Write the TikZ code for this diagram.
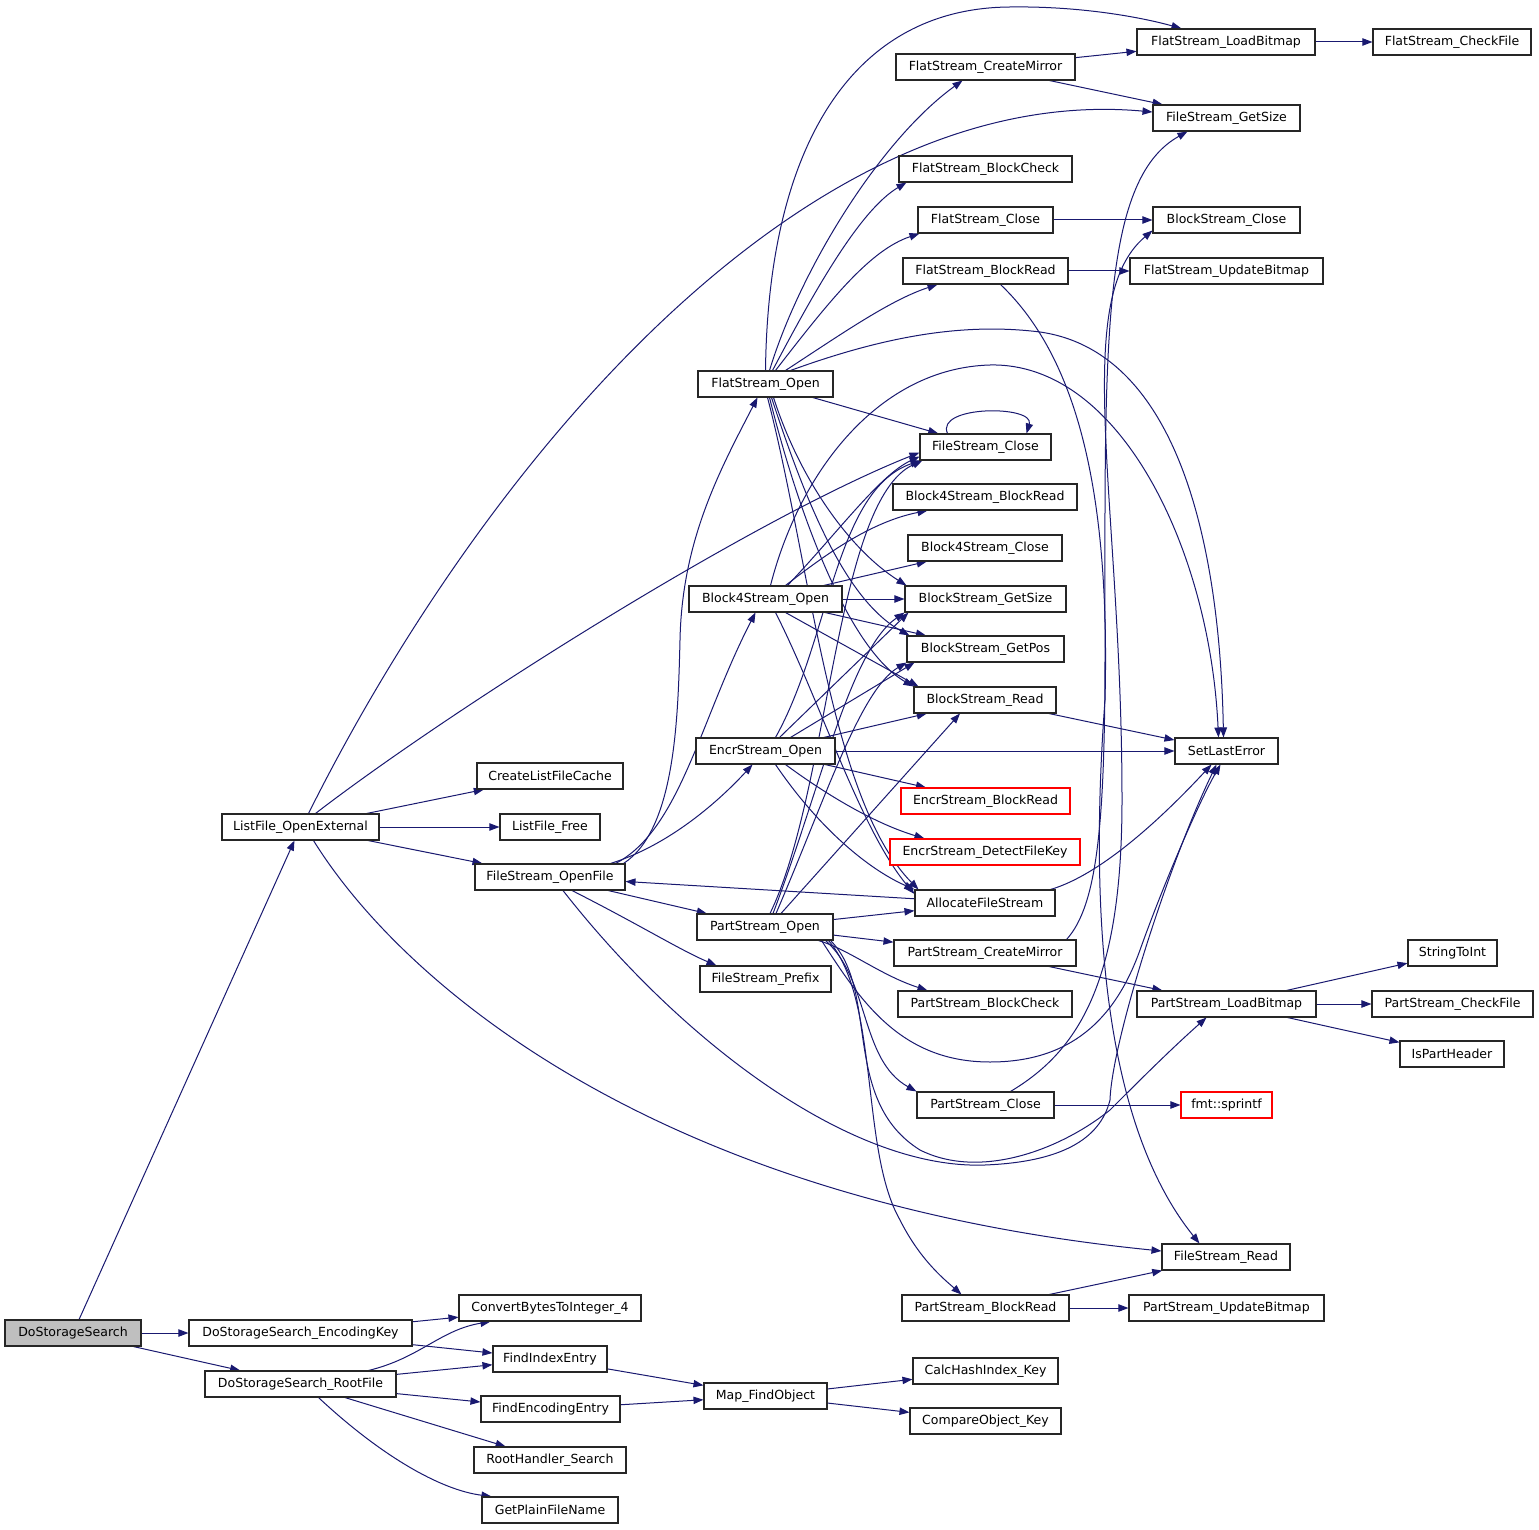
\documentclass[tikz,border=0pt]{standalone}
\usepackage{fontspec}
\setmainfont{DejaVu Sans}
\usetikzlibrary{arrows.meta,calc}
\definecolor{edgec}{HTML}{191970}
\definecolor{rootfill}{HTML}{BFBFBF}
\pgfdeclarelayer{bg}
\pgfsetlayers{bg,main}
\begin{document}
\begin{tikzpicture}[x=0.75pt,y=-0.75pt,
  fn/.style={draw=black!85, line width=0.8pt, fill=white, inner xsep=1pt, inner ysep=1pt,
    minimum height=19.5pt, font=\fontsize{9.4}{11}\selectfont, minimum width=#1*0.75pt},
  rn/.style={fn=#1, draw=red},
  e/.style={draw=edgec, line width=0.75pt, -{Triangle[length=7.5pt,width=5.5pt]}}]
\useasboundingbox (0,0) rectangle (1539,1530);
% nodes
\node[fn=136, fill=rootfill] (dss) at (73,1333) {DoStorageSearch};
\node[fn=223] (dsek) at (300.5,1333) {DoStorageSearch\_EncodingKey};
\node[fn=191] (dsrf) at (300.5,1384) {DoStorageSearch\_RootFile};
\node[fn=157] (lfoe) at (300.5,827) {ListFile\_OpenExternal};
\node[fn=146] (clfc) at (550,776) {CreateListFileCache};
\node[fn=100] (lff) at (550,827) {ListFile\_Free};
\node[fn=150] (fsof) at (550,877) {FileStream\_OpenFile};
\node[fn=182] (cbti) at (550,1308) {ConvertBytesToInteger\_4};
\node[fn=114] (fie) at (550,1359) {FindIndexEntry};
\node[fn=139] (fee) at (550.5,1409) {FindEncodingEntry};
\node[fn=152] (rhs) at (550,1460) {RootHandler\_Search};
\node[fn=136] (gpfn) at (550,1510) {GetPlainFileName};
\node[fn=135] (fso) at (765.5,384) {FlatStream\_Open};
\node[fn=153] (b4o) at (765.5,599) {Block4Stream\_Open};
\node[fn=139] (eso) at (765.5,751) {EncrStream\_Open};
\node[fn=136] (pso) at (765,927) {PartStream\_Open};
\node[fn=131] (fsp) at (765.5,979) {FileStream\_Prefix};
\node[fn=123] (mfo) at (765.5,1396) {Map\_FindObject};
\node[fn=179] (fcm) at (985.5,67) {FlatStream\_CreateMirror};
\node[fn=173] (fbc) at (985.5,169) {FlatStream\_BlockCheck};
\node[fn=135] (fcl) at (985.5,220) {FlatStream\_Close};
\node[fn=165] (fbr) at (985.5,271) {FlatStream\_BlockRead};
\node[fn=131] (fscl) at (985.5,447) {FileStream\_Close};
\node[fn=184] (b4br) at (985,497) {Block4Stream\_BlockRead};
\node[fn=154] (b4cl) at (985,548) {Block4Stream\_Close};
\node[fn=161] (bgs) at (985.5,599) {BlockStream\_GetSize};
\node[fn=157] (bgp) at (985.5,649) {BlockStream\_GetPos};
\node[fn=142] (brd) at (985,700) {BlockStream\_Read};
\node[rn=169] (ebr) at (985.5,801) {EncrStream\_BlockRead};
\node[rn=190] (edk) at (985,852) {EncrStream\_DetectFileKey};
\node[fn=140] (afs) at (985,903) {AllocateFileStream};
\node[fn=182] (pcm) at (985,953) {PartStream\_CreateMirror};
\node[fn=174] (pbc) at (985,1004) {PartStream\_BlockCheck};
\node[fn=137] (pcl) at (985.5,1105) {PartStream\_Close};
\node[fn=167] (pbr) at (985.5,1308) {PartStream\_BlockRead};
\node[fn=145] (chk) at (985.5,1371) {CalcHashIndex\_Key};
\node[fn=151] (cok) at (985.5,1421) {CompareObject\_Key};
\node[fn=178] (flb) at (1226,42) {FlatStream\_LoadBitmap};
\node[fn=147] (fgs) at (1226.5,118) {FileStream\_GetSize};
\node[fn=147] (bcl) at (1226.5,220) {BlockStream\_Close};
\node[fn=193] (fub) at (1226.5,271) {FlatStream\_UpdateBitmap};
\node[fn=103] (sle) at (1226.5,751) {SetLastError};
\node[fn=179] (plb) at (1226.5,1004) {PartStream\_LoadBitmap};
\node[rn=91] (spf) at (1226.5,1105) {fmt::sprintf};
\node[fn=128] (fsr) at (1226,1257) {FileStream\_Read};
\node[fn=195] (pub) at (1226.5,1308) {PartStream\_UpdateBitmap};
\node[fn=158] (fcf) at (1452,42) {FlatStream\_CheckFile};
\node[fn=89] (sti) at (1452.5,953) {StringToInt};
\node[fn=161] (pcf) at (1452.5,1004) {PartStream\_CheckFile};
\node[fn=104] (iph) at (1452,1054) {IsPartHeader};
% edges
\begin{pgfonlayer}{bg}
\fill[white] (0,0) rectangle (1539,1530);
% straight
\draw[e] (dss) -- (lfoe);
\draw[e] (dss) -- (dsek);
\draw[e] (dss) -- (dsrf);
\draw[e] (dsek) -- (cbti);
\draw[e] (dsek) -- (fie);
\draw[e] (dsrf) -- (fie);
\draw[e] (dsrf) -- (fee);
\draw[e] (dsrf) -- (rhs);
\draw[e] (fie) -- (mfo);
\draw[e] (fee) -- (mfo);
\draw[e] (mfo) -- (chk);
\draw[e] (mfo) -- (cok);
\draw[e] (lfoe) -- (clfc);
\draw[e] (lfoe) -- (lff);
\draw[e] (lfoe) -- (fsof);
\draw[e] (fsof) -- (pso);
\draw[e] (afs) -- (fsof);
\draw[e] (fso) -- (fscl);
\draw[e] (b4o) -- (b4cl);
\draw[e] (b4o) -- (bgs);
\draw[e] (b4o) -- (bgp);
\draw[e] (eso) -- (brd);
\draw[e] (eso) -- (sle);
\draw[e] (eso) -- (ebr);
\draw[e] (pso) -- (afs);
\draw[e] (pso) -- (pcm);
\draw[e] (fcm) -- (flb);
\draw[e] (fcm) -- (fgs);
\draw[e] (flb) -- (fcf);
\draw[e] (fcl) -- (bcl);
\draw[e] (fbr) -- (fub);
\draw[e] (brd) -- (sle);
\draw[e] (plb) -- (sti);
\draw[e] (plb) -- (pcf);
\draw[e] (plb) -- (iph);
\draw[e] (pcm) -- (plb);
\draw[e] (pcl) -- (spf);
\draw[e] (pbr) -- (fsr);
\draw[e] (pbr) -- (pub);
\draw[e] ($(b4o.south)+(20,0)$) -- ($(brd.north west)+(5,0)$);
\draw[e] ($(eso.north)+(14,0)$) -- ($(bgs.south west)+(4,0)$);
\draw[e] ($(eso.north)+(25,0)$) -- ($(bgp.south west)+(8,0)$);
\draw[e] ($(pso.north)+(16,0)$) -- ($(brd.south)+(-25,0)$);
% bottom-left curves
\draw[e] ($(dsrf.north)+(68,0)$) .. controls (420,1358) and (440,1330) .. ($(cbti.south west)+(32,0)$);
\draw[e] ($(dsrf.south)+(18,0)$) .. controls (380,1455) and (440,1490) .. ($(gpfn.north west)+(10,0)$);
% ListFile_OpenExternal curves
\draw[e] ($(lfoe.north)+(8,0)$) .. controls (480,470) and (800,80) .. ($(fgs.west)+(0,-6)$);
\draw[e] ($(lfoe.north)+(15,0)$) .. controls (450,710) and (750,520) .. ($(fscl.south west)+(0,-8)$);
\draw[e] ($(lfoe.south)+(13,0)$) .. controls (400,980) and (650,1200) .. ($(fsr.west)+(0,-6)$);
% FileStream_OpenFile curves
\draw[e] ($(fsof.north east)+(-2,0)$) .. controls (675,830) and (678,720) .. (680,640) .. controls (682,540) and (720,470) .. ($(fso.south)+(-8,0)$);
\draw[e] ($(fsof.north east)+(-10,0)$) .. controls (680,830) and (700,720) .. ($(b4o.south)+(-10,0)$);
\draw[e] ($(fsof.north east)+(-15,0)$) .. controls (670,845) and (720,800) .. ($(eso.south)+(-13,0)$);
\draw[e] ($(fsof.south)+(22,0)$) .. controls (640,925) and (680,950) .. ($(fsp.north west)+(17,0)$);
\draw[e] ($(fsof.south)+(13,0)$) .. controls (680,1040) and (850,1170) .. (985,1165) .. controls (1060,1162) and (1100,1140) .. (1110,1100) .. controls (1112,1040) and (1170,860) .. ($(sle.south)+(-10,0)$);
% FlatStream_Open curves
\draw[e] (fso.north) .. controls (768,150) and (850,8) .. (1010,7) .. controls (1080,6) and (1140,17) .. ($(flb.north west)+(45,0)$);
\draw[e] ($(fso.north)+(4,0)$) .. controls (800,270) and (880,140) .. ($(fcm.south)+(-23,0)$);
\draw[e] ($(fso.north)+(7,0)$) .. controls (815,290) and (860,210) .. ($(fbc.south west)+(8,0)$);
\draw[e] ($(fso.north)+(10,0)$) .. controls (830,300) and (870,250) .. ($(fcl.south west)+(2,0)$);
\draw[e] ($(fso.north)+(20,0)$) .. controls (840,335) and (890,300) .. ($(fbr.south west)+(35,0)$);
\draw[e] ($(fso.north east)+(-43,0)$) .. controls (880,338) and (960,322) .. (1040,332) .. controls (1180,352) and (1220,550) .. ($(sle.north)+(-3,0)$);
\draw[e] ($(fso.south)+(8,0)$) .. controls (800,480) and (850,550) .. ($(bgs.north west)+(2,0)$);
\draw[e] ($(fso.south)+(6,0)$) .. controls (805,500) and (845,600) .. ($(bgp.north west)+(3,0)$);
\draw[e] ($(fso.south)+(4,0)$) .. controls (800,520) and (850,650) .. (brd.north west);
\draw[e] ($(fso.south)+(2,0)$) .. controls (810,560) and (830,800) .. ($(afs.north west)+(4,0)$);
% Block4Stream_Open curves
\draw[e] ($(b4o.north)+(22,0)$) .. controls (840,530) and (880,475) .. ($(fscl.south west)+(0,-4)$);
\draw[e] ($(b4o.north)+(20,0)$) .. controls (825,555) and (870,522) .. ($(b4br.south west)+(35,0)$);
\draw[e] ($(b4o.south)+(10,0)$) .. controls (820,700) and (860,830) .. ($(afs.west)+(0,-9)$);
\draw[e] ($(b4o.north)+(5,0)$) .. controls (800,470) and (880,368) .. (990,365) .. controls (1120,362) and (1210,550) .. ($(sle.north)+(-8,0)$);
% EncrStream_Open curves
\draw[e] ($(eso.north)+(10,0)$) .. controls (830,640) and (835,490) .. ($(fscl.south west)+(1,0)$);
\draw[e] ($(eso.south)+(20,0)$) .. controls (820,790) and (870,822) .. ($(edk.north west)+(35,0)$);
\draw[e] ($(eso.south)+(10,0)$) .. controls (820,830) and (870,870) .. (afs.north west);
% PartStream_Open curves
\draw[e] ($(pso.north)+(5,0)$) .. controls (830,790) and (835,500) .. ($(fscl.south west)+(3,0)$);
\draw[e] ($(pso.north)+(8,0)$) .. controls (820,790) and (850,650) .. ($(bgs.south west)+(0,0)$);
\draw[e] ($(pso.north)+(11,0)$) .. controls (825,800) and (860,690) .. ($(bgp.south west)+(0,0)$);
\draw[e] ($(pso.south east)+(-15,0)$) .. controls (850,950) and (880,975) .. ($(pbc.north west)+(30,0)$);
\draw[e] ($(pso.south east)+(-8,0)$) .. controls (870,980) and (860,1060) .. (pcl.north west);
\draw[e] ($(pso.south east)+(-5,0)$) .. controls (880,1000) and (860,1150) .. (900,1220) .. controls (920,1260) and (945,1280) .. ($(pbr.north west)+(60,0)$);
\draw[e] ($(pso.south east)+(-12,0)$) .. controls (860,1000) and (900,1062) .. (990,1062) .. controls (1070,1062) and (1115,1020) .. (1140,950) .. controls (1165,880) and (1200,800) .. ($(sle.south)+(-6,0)$);
\draw[e] ($(pso.south east)+(-3,0)$) .. controls (880,990) and (840,1100) .. (920,1150) .. controls (980,1180) and (1060,1150) .. (1110,1110) .. controls (1140,1080) and (1170,1050) .. ($(plb.south)+(-20,0)$);
% right-side curves
\draw[e] ($(afs.north east)+(-5,0)$) .. controls (1100,875) and (1160,820) .. ($(sle.south)+(-15,0)$);
\draw[e] ($(fbr.south)+(15,0)$) .. controls (1080,360) and (1110,500) .. (1105,700) .. controls (1090,900) and (1100,1120) .. ($(fsr.north west)+(38,0)$);
\draw[e] ($(pcm.north east)+(-10,0)$) .. controls (1098,905) and (1105,820) .. (1105,650) .. controls (1105,350) and (1100,180) .. ($(fgs.south west)+(35,0)$);
\draw[e] ($(pcl.north)+(25,0)$) .. controls (1080,1050) and (1122,980) .. (1122,800) .. controls (1122,500) and (1070,300) .. ($(bcl.south west)+(0,-3)$);
% self loop
\draw[e] ($(fscl.north west)+(28,0)$) .. controls (935,405) and (1035,405) .. ($(fscl.north east)+(-25,0)$);
\end{pgfonlayer}
\end{tikzpicture}
\end{document}
